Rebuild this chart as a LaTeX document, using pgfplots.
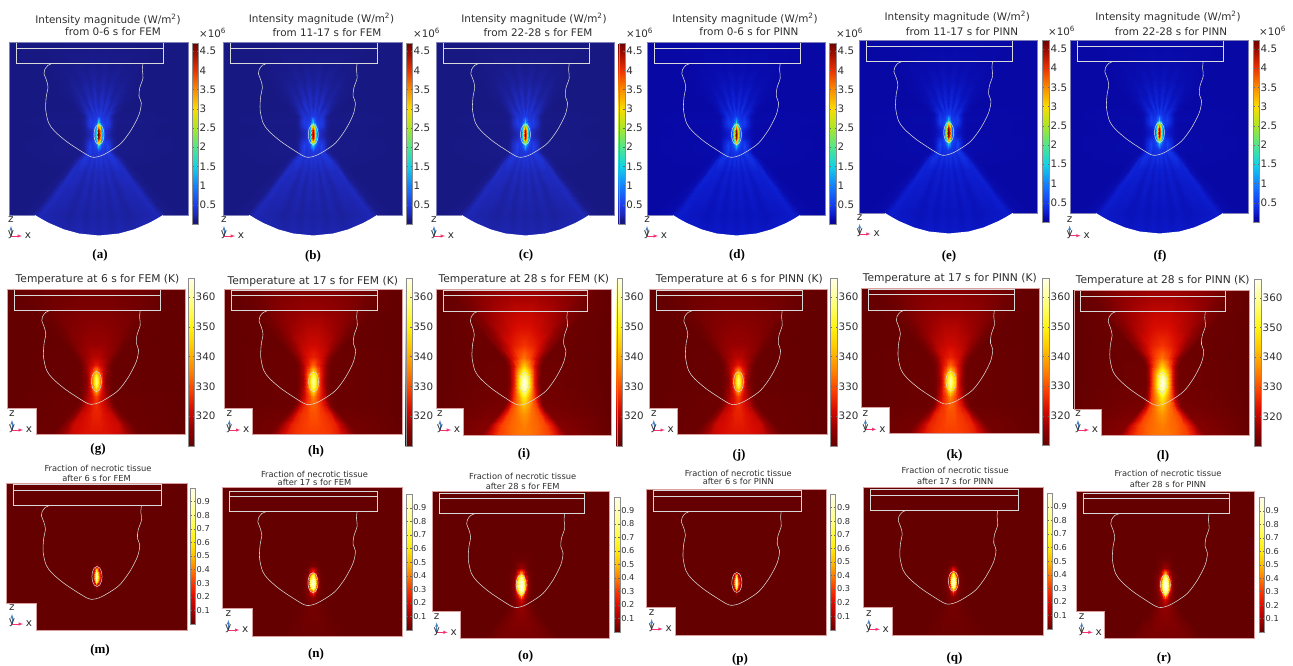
\documentclass[border=0pt]{standalone}
\usepackage{fontspec}
\setmainfont{DejaVu Sans}
\newfontfamily\capf{Liberation Serif}
\usepackage{pgfplots}
\usepackage{pgfplotstable}
\pgfplotsset{compat=1.18}
\definecolor{txt}{rgb}{.18,.18,.18}
\definecolor{linec}{rgb}{.85,.85,.85}
\definecolor{rimI}{rgb}{.5,.5,.72}
\definecolor{rimT}{rgb}{.85,.62,.62}
\pgfplotsset{
 colormap={iF}{rgb255(0pt)=(24,24,125) rgb255(10pt)=(24,24,130) rgb255(25pt)=(30,40,185) rgb255(50pt)=(30,60,235) rgb255(100pt)=(20,130,255) rgb255(150pt)=(20,210,230) rgb255(200pt)=(80,230,140) rgb255(250pt)=(170,230,40) rgb255(300pt)=(250,220,0) rgb255(350pt)=(250,140,0) rgb255(400pt)=(235,50,0) rgb255(450pt)=(150,10,0) rgb255(471pt)=(110,0,0)},
 colormap={iP}{rgb255(0pt)=(8,8,150) rgb255(10pt)=(8,8,165) rgb255(25pt)=(12,28,205) rgb255(50pt)=(20,60,240) rgb255(100pt)=(20,130,255) rgb255(150pt)=(20,210,230) rgb255(200pt)=(80,230,140) rgb255(250pt)=(170,230,40) rgb255(300pt)=(250,220,0) rgb255(350pt)=(250,140,0) rgb255(400pt)=(235,50,0) rgb255(450pt)=(150,10,0) rgb255(471pt)=(110,0,0)},
 colormap={heatT}{rgb255(0pt)=(100,0,0) rgb255(6pt)=(150,0,0) rgb255(12pt)=(215,10,0) rgb255(18pt)=(250,60,0) rgb255(25pt)=(255,130,0) rgb255(33pt)=(255,200,0) rgb255(40pt)=(255,245,20) rgb255(48pt)=(255,255,130) rgb255(56pt)=(255,255,235)},
 colormap={heatF}{rgb255(0pt)=(100,0,0) rgb255(10pt)=(170,0,0) rgb255(20pt)=(225,10,0) rgb255(30pt)=(250,55,0) rgb255(40pt)=(255,125,0) rgb255(50pt)=(255,190,0) rgb255(60pt)=(255,235,10) rgb255(70pt)=(255,250,60) rgb255(80pt)=(255,255,130) rgb255(100pt)=(255,255,235)},
 base/.style={anchor=north west,scale only axis,hide axis,xmin=0,xmax=179,y dir=reverse,clip=true},
 barbase/.style={at={(parent axis.north west)},anchor=north west,xshift=\cx pt-0.3cm,yshift=\cy pt,
   scale only axis,width=\bW pt,height=\bH pt,
   axis line style={draw=black!45,line width=.4pt},
   ytick style={draw=black!60,line width=.3pt},major tick length=1.5pt,
   xtick=\empty},
 field/.style={surf,shader=interp},
}
\pgfplotstableread[row sep=\\]{
d v I\\
0 -6 .1\\6.7 -6 .1\\13.4 -6 .1\\20.1 -6 .1\\30.2 -6 .1\\40.2 -6 .1\\50.3 -6 .1\\60.3 -6 .1\\70.4 -6 .1\\87.1 -6 .1\\90 -6 .1\\
0 21 .12\\5.7 21 .13\\11.4 21 .12\\17.1 21 .12\\25.7 21 .12\\34.2 21 .11\\42.8 21 .11\\51.3 21 .1\\59.9 21 .1\\74.1 21 .1\\90 21 .1\\
0 40 .16\\4.2 40 .19\\8.4 40 .15\\12.6 40 .17\\18.9 40 .14\\25.2 40 .14\\31.5 40 .12\\37.8 40 .11\\44.1 40 .1\\54.6 40 .1\\90 40 .1\\
0 55 .2\\3 55 .28\\6 55 .2\\9 55 .25\\13.5 55 .17\\18 55 .18\\22.5 55 .14\\27 55 .12\\31.5 55 .11\\39 55 .1\\90 55 .1\\
0 66 .25\\2.1 66 .38\\4.2 66 .25\\6.3 66 .38\\9.5 66 .22\\12.6 66 .25\\15.8 66 .18\\18.9 66 .14\\22.1 66 .11\\27.3 66 .1\\90 66 .1\\
0 74 .45\\1.4 74 .5\\2.8 74 .4\\4.2 74 .4\\6.3 74 .35\\8.4 74 .4\\10.5 74 .3\\12.6 74 .2\\14.7 74 .14\\18.2 74 .11\\90 74 .1\\
0 80 1.6\\1.4 80 .9\\2.8 80 .55\\4.2 80 .5\\6.3 80 .45\\8.4 80 .5\\10.5 80 .38\\12.6 80 .25\\14.7 80 .16\\18.2 80 .12\\90 80 .1\\
0 84 3.2\\1.4 84 2.4\\2.8 84 1\\4.2 84 .6\\6.3 84 .45\\8.4 84 .45\\10.5 84 .35\\12.6 84 .22\\14.7 84 .15\\18.2 84 .11\\90 84 .1\\
0 88 4.4\\1.4 88 3.6\\2.8 88 1.5\\4.2 88 .75\\6.3 88 .35\\8.4 88 .28\\10.5 88 .24\\12.6 88 .18\\14.7 88 .14\\18.2 88 .11\\90 88 .1\\
0 92 4.7\\1.4 92 3.9\\2.8 92 1.7\\4.2 92 .8\\6.3 92 .35\\8.4 92 .25\\10.5 92 .2\\12.6 92 .16\\14.7 92 .13\\18.2 92 .11\\90 92 .1\\
0 96 4.5\\1.4 96 3.7\\2.8 96 1.6\\4.2 96 .75\\6.3 96 .35\\8.4 96 .28\\10.5 96 .24\\12.6 96 .18\\14.7 96 .14\\18.2 96 .11\\90 96 .1\\
0 100 3.2\\1.4 100 2.4\\2.8 100 1.1\\4.2 100 .65\\6.3 100 .45\\8.4 100 .45\\10.5 100 .35\\12.6 100 .24\\14.7 100 .16\\18.2 100 .12\\90 100 .1\\
0 104 1.4\\1.4 104 1\\2.8 104 .6\\4.2 104 .5\\6.3 104 .42\\8.4 104 .55\\10.5 104 .42\\12.6 104 .28\\14.7 104 .16\\18.2 104 .12\\90 104 .1\\
0 110 .45\\1.4 110 .45\\2.8 110 .4\\4.2 110 .42\\6.3 110 .35\\8.4 110 .48\\10.5 110 .42\\12.6 110 .28\\14.7 110 .17\\18.2 110 .12\\90 110 .1\\
0 118 .33\\2.1 118 .4\\4.2 118 .3\\6.3 118 .38\\9.5 118 .3\\12.6 118 .38\\15.8 118 .4\\18.9 118 .3\\22.1 118 .17\\27.3 118 .11\\90 118 .1\\
0 130 .24\\3 130 .28\\6 130 .22\\9 130 .28\\13.5 130 .22\\18 130 .28\\22.5 130 .28\\27 130 .3\\31.5 130 .14\\39 130 .1\\90 130 .1\\
0 145 .2\\4.2 145 .24\\8.4 145 .19\\12.6 145 .24\\18.9 145 .19\\25.2 145 .24\\31.5 145 .24\\37.8 145 .27\\44.1 145 .13\\54.6 145 .1\\90 145 .1\\
0 160 .19\\5.4 160 .22\\10.8 160 .18\\16.2 160 .22\\24.3 160 .18\\32.4 160 .22\\40.5 160 .22\\48.6 160 .25\\56.7 160 .12\\70.2 160 .1\\90 160 .1\\
0 173 .18\\6.5 173 .2\\13 173 .17\\19.5 173 .2\\29.3 173 .17\\39 173 .2\\48.8 173 .21\\58.5 173 .24\\68.3 173 .12\\84.5 173 .1\\90 173 .1\\
0 197 .22\\6.7 197 .24\\13.4 197 .22\\20.1 197 .24\\30.2 197 .22\\40.2 197 .24\\50.3 197 .24\\60.3 197 .24\\70.4 197 .12\\87.1 197 .1\\90 197 .1\\
}\Itab
\pgfplotstableread[row sep=\\]{
d v Ta Tb Tc Fa Fb Fc\\
0 -6 311.5 313 315 0 0 0\\9.5 -6 311.5 313 315 0 0 0\\18.9 -6 311.5 313 315 0 0 0\\31.5 -6 311 312.5 314.5 0 0 0\\47.3 -6 311 312 313.5 0 0 0\\63 -6 310.5 311 312 0 0 0\\78.8 -6 310.3 310.3 310.5 0 0 0\\90 -6 310 310 310 0 0 0\\
0 21 313 316 320 0 0 0\\7.4 21 313 316 320 0 0 0\\14.7 21 313 315.5 319 0 0 0\\24.5 21 312.5 315 318 0 0 0\\36.8 21 312 313.5 316 0 0 0\\49 21 311 311.5 313 0 0 0\\61.3 21 310.3 310.5 311 0 0 0\\90 21 310 310 310 0 0 0\\
0 40 315 319 323 0 0 0\\5.4 40 315 319 323 0 0 0\\10.8 40 314.5 318 322 0 0 0\\18 40 314 317 320 0 0 0\\27 40 313 315 318 0 0 0\\36 40 311 312 314 0 0 0\\45 40 310.3 310.5 311 0 0 0\\90 40 310 310 310 0 0 0\\
0 55 316 321 327 0 0 0\\3.9 55 316 321 326 0 0 0\\7.8 55 316 320 325 0 0 0\\13 55 315 319 323 0 0 0\\19.5 55 314 316 319 0 0 0\\26 55 311.5 312.5 315 0 0 0\\32.5 55 310.3 310.5 311 0 0 0\\90 55 310 310 310 0 0 0\\
0 68 319 325 334 0 0 .01\\2.6 68 319 324 332 0 0 .01\\5.1 68 318 323 330 0 0 .01\\8.5 68 317 321 326 0 0 0\\12.8 68 315 317 321 0 0 0\\17 68 312 313 315 0 0 0\\21.3 68 310.5 311 311 0 0 0\\90 68 310 310 310 0 0 0\\
0 76 324 332 344 0 .03 .08\\2.1 76 323 330 341 0 .02 .06\\4.2 76 321 326 337 0 .01 .03\\7 76 319 323 331 0 0 .01\\10.5 76 316 318 323 0 0 0\\14 76 312 313 316 0 0 0\\17.5 76 310.5 311 311.5 0 0 0\\90 76 310 310 310 0 0 0\\
0 82 338 345 354 .04 .3 .55\\2.1 82 333 340 351 .01 .15 .35\\4.2 82 326 332 345 0 .03 .1\\7 82 320 325 336 0 .01 .03\\10.5 82 316 318 325 0 0 .01\\14 82 312 313 316 0 0 0\\17.5 82 310.5 311 311.5 0 0 0\\90 82 310 310 310 0 0 0\\
0 86 350 355 361 .65 .85 .95\\2.1 86 343 349 357 .15 .45 .7\\4.2 86 331 338 350 .01 .07 .25\\7 86 320 326 338 0 .02 .05\\10.5 86 315 318 325 0 0 .01\\14 86 312 313 316 0 0 0\\17.5 86 310.5 311 311.5 0 0 0\\90 86 310 310 310 0 0 0\\
0 90 356 360 365 .88 1 1\\2.1 90 348 354 361 .35 .72 .9\\4.2 90 334 341 353 .02 .12 .42\\7 90 320 326 339 0 .02 .06\\10.5 90 314 317 325 0 .005 .01\\14 90 311.5 312.5 315 0 0 0\\17.5 90 310.5 311 311.5 0 0 0\\90 90 310 310 310 0 0 0\\
0 94 357 361 366 .9 1 1\\2.1 94 349 355 362 .4 .78 .92\\4.2 94 335 342 354 .03 .14 .48\\7 94 320 326 340 0 .02 .07\\10.5 94 314 317 325 0 .005 .01\\14 94 311.5 312.5 315 0 0 0\\17.5 94 310.5 311 311.5 0 0 0\\90 94 310 310 310 0 0 0\\
0 98 352 358 364 .7 .92 1\\2.1 98 344 351 360 .2 .55 .8\\4.2 98 331 339 352 .01 .09 .32\\7 98 320 326 339 0 .02 .06\\10.5 98 315 318 326 0 .005 .01\\14 98 312 313 316 0 0 0\\17.5 98 310.5 311 311.5 0 0 0\\90 98 310 310 310 0 0 0\\
0 102 340 348 358 .08 .35 .7\\2.1 102 334 342 354 .02 .18 .42\\4.2 102 326 333 347 0 .05 .15\\7 102 320 326 337 0 .02 .04\\10.5 102 316 319 327 0 .005 .01\\14 102 312 313 317 0 0 0\\17.5 102 310.5 311 312 0 0 0\\90 102 310 310 310 0 0 0\\
0 108 328 336 349 0 .05 .18\\2.1 108 326 333 346 0 .04 .13\\4.2 108 323 329 341 0 .03 .07\\7 108 320 325 335 0 .01 .03\\10.5 108 317 320 328 0 0 .01\\14 108 313 314 318 0 0 0\\17.5 108 311 311 312 0 0 0\\90 108 310 310 310 0 0 0\\
0 116 326 332 342 0 .025 .07\\2.4 116 325 331 340 0 .02 .06\\4.8 116 323 329 337 0 .02 .05\\8 116 321 326 333 0 .01 .03\\12 116 318 322 329 0 .005 .01\\16 116 313 315 320 0 0 0\\20 116 311 311 312.5 0 0 0\\90 116 310 310 310 0 0 0\\
0 125 325 330 337 0 .02 .05\\3.3 125 325 330 336 0 .02 .05\\6.6 125 323 328 334 0 .015 .04\\11 125 322 327 332 0 .01 .03\\16.5 125 320 324 329 0 .005 .01\\22 125 314 316 321 0 0 0\\27.5 125 311 311.5 313 0 0 0\\90 125 310 310 310 0 0 0\\
0 135 324 329 335 0 .015 .04\\4.4 135 324 329 334 0 .015 .04\\8.7 135 323 328 333 0 .015 .04\\14.5 135 322 327 332 0 .01 .03\\21.8 135 321 325 329 0 .005 .02\\29 135 315 318 323 0 0 0\\36.3 135 311 312 314 0 0 0\\90 135 310 310 310 0 0 0\\
0 145 323 328 334 0 .012 .03\\5.3 145 323 328 334 0 .012 .03\\10.5 145 323 328 333 0 .012 .03\\17.5 145 322 327 331 0 .01 .03\\26.3 145 320 324 328 0 .005 .02\\35 145 315 318 322 0 0 .005\\43.8 145 311 312 314 0 0 0\\90 145 310 310 310 0 0 0\\
0 150 322 327 333 0 .012 .03\\5.9 150 322 327 333 0 .012 .03\\11.7 150 322 327 332 0 .012 .03\\19.5 150 321 326 330 0 .01 .03\\29.3 150 319 323 327 0 .005 .02\\39 150 314 317 321 0 0 .005\\48.8 150 311 312 314 0 0 0\\90 150 310 310 310 0 0 0\\
}\Ttab
\newcommand\overlays{%
 \addplot[draw=linec,line width=.55pt] coordinates {(7,.7)(154,.7)(154,21.3)(7,21.3)(7,.7)};
 \addplot[draw=linec,line width=.55pt] coordinates {(7,6)(154,6)};
 \addplot[draw=linec,line width=.55pt,smooth] coordinates {(44,21.3)(39,23.3)(35.7,27.7)(35,31.7)(37.3,37.7)(39,45)(37.3,54.3)(36.7,67.7)(39.7,81)(45.7,89.3)(57.3,99.3)(70.7,108.3)(80.7,114.3)(85.7,115.3)(92.3,113.7)(100.7,109.3)(112.3,101)(122.3,87.7)(130,72.7)(132.3,61)(130,54.3)(130.7,46)(134,36)(133.3,27.7)(134,21.3)};
 \addplot[draw=linec,line width=.5pt,smooth] coordinates {(95,92.5)(94.3,87.5)(92.5,83.8)(90,82.5)(87.5,83.8)(85.7,87.5)(85,92.5)(85.7,97.5)(87.5,101.2)(90,102.5)(92.5,101.2)(94.3,97.5)(95,92.5)};
}
\newcommand\geo[8]{%
 \pgfmathsetmacro\W{#2-#1}\pgfmathsetmacro\H{#4-#3}%
 \pgfmathsetmacro\bW{#6-#5}\pgfmathsetmacro\bH{#8-#7}%
 \pgfmathsetmacro\cx{#5-#1}\pgfmathsetmacro\cy{#3-#7}%
 \pgfmathsetmacro\Ux{(#2-#1)/179}%
 \def\Lx{#1}\def\Rx{#2}\def\Ty{#3}\def\By{#4}}
\newcommand\Ipanel[1]{%
 \begin{axis}[base,at={(\Lx pt,-\Ty pt)},width=\W pt,height=\H pt,ymin=0,ymax=\H,
  colormap name=#1,point meta min=0,point meta max=4.71,colorbar,
  colorbar style={barbase,ytick={.5,1,1.5,2,2.5,3,3.5,4,4.5},yticklabels={0.5,1,1.5,2,2.5,3,3.5,4,4.5},
   yticklabel style={font=\fontsize{10.3}{10}\selectfont,text=txt,inner xsep=1.5pt}}]
 \addplot[field,mesh/cols=11,point meta=\thisrow{I}] table[x expr=89.5-\thisrow{d},y=v] \Itab;
 \addplot[field,mesh/cols=11,point meta=\thisrow{I}] table[x expr=89.5+\thisrow{d},y=v] \Itab;
 \overlays
 \end{axis}
 \begin{scope}[shift={(\Lx pt,-\Ty pt)},x=\Ux pt,y=-1pt]
 \fill[white] (-1.5,173)--(26,173)--(33,177.2)--(40,181)--(55,187.4)--(70,191.5)--(90,193.5)--(110,191.5)--(125,187.4)--(140,181)--(147,177.2)--(154,173)--(180.5,173)--(180.5,197)--(-1.5,197)--cycle;
 \draw[rimI,line width=.5pt] (26,173)--(0,173)--(0,0)--(179,0)--(179,173)--(154,173);
 \end{scope}}
\pgfplotsset{
 rowT/.style={colormap name=heatT,point meta min=310,point meta max=366.4,colorbar,
  colorbar style={barbase,ytick={320,330,340,350,360},yticklabels={320,330,340,350,360},
   yticklabel style={font=\fontsize{10.3}{10}\selectfont,text=txt,inner xsep=1.5pt}}},
 rowF/.style={colormap name=heatF,point meta min=0,point meta max=1,colorbar,
  colorbar style={barbase,ytick={.1,.2,.3,.4,.5,.6,.7,.8,.9},yticklabels={0.1,0.2,0.3,0.4,0.5,0.6,0.7,0.8,0.9},
   yticklabel style={font=\fontsize{8.2}{8}\selectfont,text=txt,inner xsep=1.5pt}}},
}
\newcommand\Tpanel[5]{%
 \pgfmathsetmacro\yA{-#4}\pgfmathsetmacro\yB{\H-#4}%
 \begin{axis}[base,#5,at={(\Lx pt,-\Ty pt)},width=\W pt,height=\H pt,ymin=\yA,ymax=\yB]
 \addplot[field,mesh/cols=8,point meta=\thisrow{#1}] table[x expr=89.5-\thisrow{d},y=v] \Ttab;
 \addplot[field,mesh/cols=8,point meta=\thisrow{#1}] table[x expr=89.5+\thisrow{d},y=v] \Ttab;
 \overlays
 \end{axis}
 \fill[white] (\Lx pt-1pt,-#3pt) rectangle (#2pt,-\By pt-1pt);
 \draw[rimT,line width=.5pt] (\Lx pt,-#3pt)--(\Lx pt,-\Ty pt)--(\Rx pt,-\Ty pt)--(\Rx pt,-\By pt)--(#2pt,-\By pt)--(#2pt,-#3pt)--cycle;}
\newcommand\ttwo[6]{%
 \node[font=\fontsize{10.4}{11}\selectfont,text=txt,inner sep=0pt] at (#2pt,-#3pt) {#1};
 \node[font=\fontsize{10.4}{11}\selectfont,text=txt,inner sep=0pt] at (#5pt,-#6pt) {#4};}
\newcommand\tone[3]{\node[font=\fontsize{10.7}{11}\selectfont,text=txt,inner sep=0pt] at (#2pt,-#3pt) {#1};}
\newcommand\tsm[6]{%
 \node[font=\fontsize{8.3}{8}\selectfont,text=txt,inner sep=0pt] at (#2pt,-#3pt) {#1};
 \node[font=\fontsize{8.3}{8}\selectfont,text=txt,inner sep=0pt] at (#5pt,-#6pt) {#4};}
\newcommand\mant[2]{\node[font=\fontsize{10.3}{11}\selectfont,text=txt,inner sep=0pt,anchor=west] at (#1pt,-#2pt) {×10\textsuperscript{6}};}
\newcommand\capt[3]{\node[font=\capf\bfseries\fontsize{13}{14}\selectfont,inner sep=0pt] at (#1pt,-#2pt) {(#3)};}
\newcommand\triad[2]{%
 \pgfmathsetmacro\tx{#1}\pgfmathsetmacro\ty{#2}%
 \draw[-latex,draw={rgb,255:red,70;green,130;blue,190},line width=.5pt] (\tx pt,-\ty pt) -- ++(0pt,10pt);
 \draw[-latex,draw={rgb,255:red,240;green,50;blue,110},line width=.5pt] (\tx pt,-\ty pt) -- ++(11pt,0pt);
 \node[font=\fontsize{10.5}{11}\selectfont,text=txt,inner sep=0pt] at (\tx pt,-\ty pt+1pt) {y};
 \node[font=\fontsize{10.5}{11}\selectfont,text=txt,inner sep=0pt] at (\tx pt+17pt,-\ty pt) {x};
 \node[font=\fontsize{10.5}{11}\selectfont,text=txt,inner sep=0pt] at (\tx pt,-\ty pt+16pt) {z};}
\begin{document}
\begin{tikzpicture}
\useasboundingbox (0pt,0pt) rectangle (1293pt,-666pt);
% row 1
\geo{9}{188}{42}{236}{192}{198}{43}{224}\Ipanel{iF}
\geo{223.5}{402}{42}{236}{406}{412}{43}{224}\Ipanel{iF}
\geo{436}{614}{42}{236}{618.7}{624.7}{43}{224}\Ipanel{iF}
\geo{647}{825}{42}{236}{829.6}{836}{43}{224}\Ipanel{iP}
\geo{859}{1037.5}{40}{234}{1042}{1049}{40.7}{222}\Ipanel{iP}
\geo{1070}{1248}{40}{234}{1253}{1259}{40.7}{222}\Ipanel{iP}
% row 2
\geo{7}{185}{289}{434}{188}{194}{278}{446}\Tpanel{Ta}{36}{408}{0}{rowT}
\geo{224.3}{402}{289.3}{434}{405.7}{411.7}{278}{446}\Tpanel{Tb}{252.7}{408}{0}{rowT}
\geo{436}{611.7}{289.7}{435}{616.7}{622.3}{278}{446}\Tpanel{Tc}{463.7}{408}{0}{rowT}
\geo{649}{827}{289.3}{434}{830.4}{837}{278}{446}\Tpanel{Ta}{677.5}{408}{0}{rowT}
\geo{861.7}{1039}{288.7}{433}{1042.5}{1049}{278}{445.6}\Tpanel{Tb}{889}{407.7}{0}{rowT}
\geo{1073.8}{1249.6}{290}{435.7}{1254.6}{1261}{279}{446}\Tpanel{Tc}{1101.7}{409.3}{0}{rowT}
% row 3
\geo{6}{187}{483}{630}{190}{195}{488}{624}\Tpanel{Fa}{36}{603}{1}{rowF}
\geo{222.7}{402.3}{487.7}{636}{406}{411.7}{494.3}{630}\Tpanel{Fb}{252}{608.3}{2.5}{rowF}
\geo{432}{609.3}{491.7}{638.3}{614.3}{619.7}{496.7}{632}\Tpanel{Fc}{460}{611}{.5}{rowF}
\geo{646}{826.7}{489}{635.7}{830.4}{835.4}{494}{629.7}\Tpanel{Fa}{675.4}{607.7}{1}{rowF}
\geo{863}{1043}{487.3}{635.3}{1047}{1052}{493.3}{629}\Tpanel{Fb}{892}{607.7}{1.5}{rowF}
\geo{1076}{1253.8}{491.7}{638.7}{1259}{1264}{497.3}{632}\Tpanel{Fc}{1104.6}{611}{.5}{rowF}
% titles row 1
\ttwo{Intensity magnitude (W/m\textsuperscript{2})}{108}{20}{from 0-6 s for FEM}{113}{32}
\ttwo{Intensity magnitude (W/m\textsuperscript{2})}{321.5}{19}{from 11-17 s for FEM}{327}{33}
\ttwo{Intensity magnitude (W/m\textsuperscript{2})}{534}{19}{from 22-28 s for FEM}{538}{33}
\ttwo{Intensity magnitude (W/m\textsuperscript{2})}{745}{19}{from 0-6 s for PINN}{749}{32}
\ttwo{Intensity magnitude (W/m\textsuperscript{2})}{957.3}{17}{from 11-17 s for PINN}{962}{31.7}
\ttwo{Intensity magnitude (W/m\textsuperscript{2})}{1168}{17}{from 22-28 s for PINN}{1171}{32}
\mant{199}{33}\mant{413}{33}\mant{626}{33}\mant{836}{33}\mant{1048}{31}\mant{1259}{31}
% titles row 2
\tone{Temperature at 6 s for FEM (K)}{97.5}{280}
\tone{Temperature at 17 s for FEM (K)}{312.8}{281.7}
\tone{Temperature at 28 s for FEM (K)}{523.8}{280}
\tone{Temperature at 6 s for PINN (K)}{739.4}{280}
\tone{Temperature at 17 s for PINN (K)}{949.8}{279}
\tone{Temperature at 28 s for PINN (K)}{1162.7}{280.5}
% titles row 3
\tsm{Fraction of necrotic tissue}{98}{468}{after 6 s for FEM}{96.5}{478}
\tsm{Fraction of necrotic tissue}{314.5}{474}{after 17 s for FEM}{314.5}{482.7}
\tsm{Fraction of necrotic tissue}{522.7}{476}{after 28 s for FEM}{522.7}{486}
\tsm{Fraction of necrotic tissue}{738.3}{473.7}{after 6 s for PINN}{738.3}{481.7}
\tsm{Fraction of necrotic tissue}{955.2}{470.7}{after 17 s for PINN}{955.2}{481}
\tsm{Fraction of necrotic tissue}{1168}{473.7}{after 28 s for PINN}{1168}{484.7}
% triads
\triad{11}{236}\triad{224}{236}\triad{434}{236}\triad{647}{236}\triad{859.6}{234}\triad{1069.6}{235.7}
\triad{12}{430}\triad{229.3}{430}\triad{440}{430}\triad{653.8}{430}\triad{865.4}{429.3}\triad{1078}{430}
\triad{12}{624}\triad{228.3}{630}\triad{436.7}{632.3}\triad{651.7}{629}\triad{868.8}{629.3}\triad{1081.7}{632.3}
% captions
\capt{100}{255}{a}\capt{313}{256}{b}\capt{526}{255}{c}\capt{737}{255}{d}\capt{949}{256}{e}\capt{1160}{256}{f}
\capt{98}{449}{g}\capt{316}{451.7}{h}\capt{524}{454}{i}\capt{739}{455}{j}\capt{954.6}{455}{k}\capt{1163}{456}{l}
\capt{100}{650.7}{m}\capt{316}{654.3}{n}\capt{525.7}{656.7}{o}\capt{740}{659}{p}\capt{954.6}{658.3}{q}\capt{1164}{658.3}{r}
\end{tikzpicture}
\end{document}
